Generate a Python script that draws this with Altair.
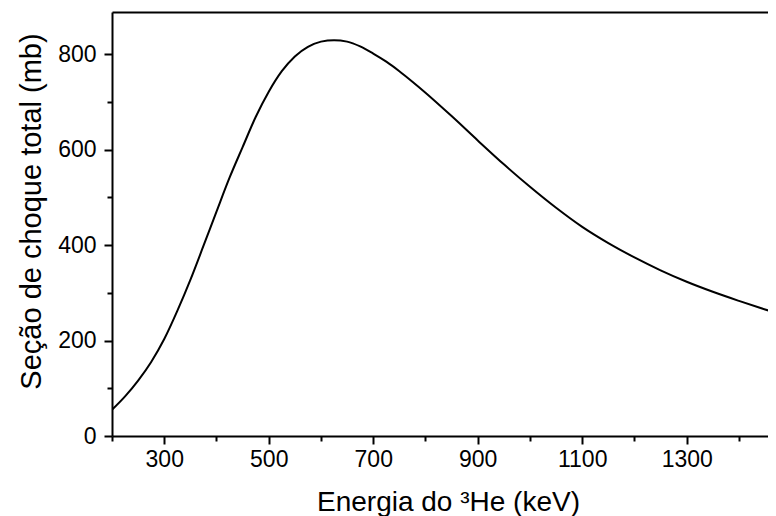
import altair as alt
import pandas as pd

energy = [200, 225, 250, 275, 300, 325, 350, 375, 400, 425, 450, 475, 500, 525, 550,
          575, 600, 625, 650, 675, 700, 725, 750, 775, 800, 850, 900, 950, 1000, 1050,
          1100, 1150, 1200, 1250, 1300, 1350, 1400, 1450, 1470]
sigma = [55, 83, 116, 155, 203, 262, 327, 398, 470, 541, 605, 668, 721, 764, 795,
         815, 826, 829, 826, 816, 801, 784, 764, 742, 719, 670, 619, 569, 522, 478,
         438, 404, 374, 347, 323, 302, 283, 265, 258]

x_major = [300, 500, 700, 900, 1100, 1300]
x_minor = [200, 400, 600, 800, 1000, 1200, 1400]
y_major = [0, 200, 400, 600, 800]
y_minor = [100, 300, 500, 700]

df = pd.DataFrame({"E": energy, "S": sigma})

FONT = "Liberation Sans"
xs = alt.Scale(domain=[200, 1455.6], nice=False, zero=False)
ys = alt.Scale(domain=[0, 888], nice=False, zero=True)

common = dict(domainColor="black", domainWidth=2, tickColor="black", tickWidth=2,
              labelFont=FONT, labelFontSize=23, labelColor="black", grid=False,
              format="d")

main = alt.Chart(df).mark_line(color="black", strokeWidth=2, clip=True,
                               interpolate="monotone").encode(
    x=alt.X("E:Q", scale=xs, axis=alt.Axis(
        orient="bottom", values=x_major, tickSize=8, labelPadding=4,
        title="Energia do ³He (keV)", titleFont=FONT, titleFontSize=28,
        titleFontWeight="normal", titleColor="black", titleX=336, titleY=74,
        titleAlign="center", titleBaseline="alphabetic", **common)),
    y=alt.Y("S:Q", scale=ys, axis=alt.Axis(
        orient="left", values=y_major, tickSize=8, labelPadding=8,
        title="Seção de choque total (mb)", titleFont=FONT, titleFontSize=29,
        titleFontWeight="normal", titleColor="black", titleAngle=270,
        titleX=-72, titleY=199, titleAlign="center", titleBaseline="alphabetic",
        **common)),
)

minor = alt.Chart(df).mark_line(opacity=0).encode(
    x=alt.X("E:Q", scale=xs, axis=alt.Axis(
        orient="bottom", values=x_minor, tickSize=5, labels=False, domain=False,
        title=None, tickColor="black", tickWidth=2, grid=False)),
    y=alt.Y("S:Q", scale=ys, axis=alt.Axis(
        orient="left", values=y_minor, tickSize=5, labels=False, domain=False,
        title=None, tickColor="black", tickWidth=2, grid=False)),
)

top = alt.Chart(df).mark_line(opacity=0).encode(
    x=alt.X("E:Q", scale=xs, axis=alt.Axis(
        orient="top", ticks=False, labels=False, domain=True, domainColor="black",
        domainWidth=2, title=None, grid=False)),
    y=alt.Y("S:Q", scale=ys, axis=None),
)

chart = alt.layer(main, minor, top).resolve_axis(
    x="independent", y="independent"
).properties(
    width=656, height=424, autosize="none",
    padding={"left": 104, "top": 4, "right": 0, "bottom": 80},
).configure_view(stroke=None)

chart.save("out.html", embed_options={"renderer": "svg", "actions": False})
